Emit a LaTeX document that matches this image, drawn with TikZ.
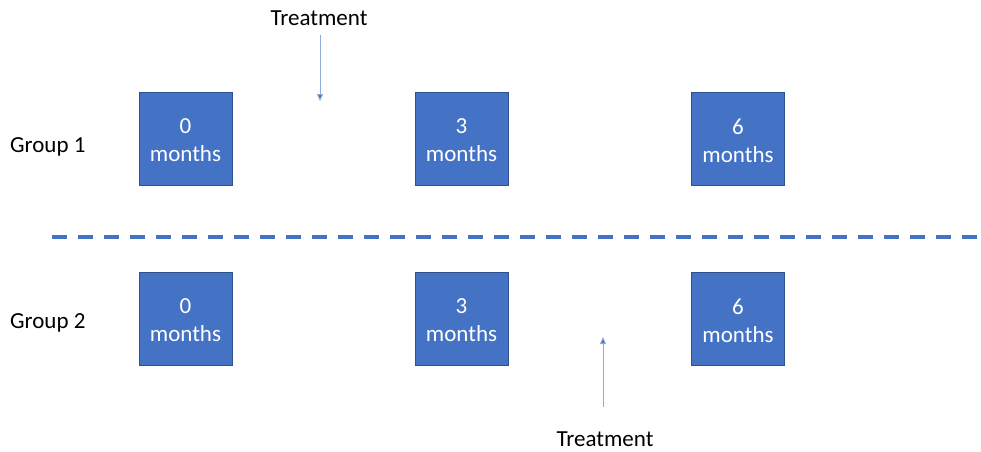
\documentclass[tikz,border=0pt]{standalone}
\usepackage{fontspec}
\setmainfont{Carlito}
\usetikzlibrary{arrows.meta}
\definecolor{boxblue}{HTML}{4472C4}
\definecolor{boxedge}{HTML}{2F528F}
\definecolor{arrowblue}{HTML}{8FAADC}
\begin{document}
\begin{tikzpicture}[x=1pt,y=-1pt,
  monthbox/.style={draw=boxedge,line width=0.8pt,fill=boxblue,
    minimum width=93pt,minimum height=93pt,inner sep=0pt},
  boxtext/.style={text=white,inner sep=0pt,align=center,
    font=\fontsize{23}{28}\selectfont},
  lbl/.style={font=\fontsize{23}{28}\selectfont,inner sep=0pt},
  tarrow/.style={draw=arrowblue,line width=0.9pt,-{Triangle[length=7pt,width=6pt,fill=boxblue]}}]
\useasboundingbox (0,0) rectangle (981,451);
% row 1
\node[monthbox] (a0) at (185.5,138.5) {};
\node[monthbox] (a3) at (461.5,138.5) {};
\node[monthbox] (a6) at (738,138.5) {};
% row 2
\node[monthbox] (b0) at (185.5,318.5) {};
\node[monthbox] (b3) at (461.5,318.5) {};
\node[monthbox] (b6) at (738,318.5) {};
% box texts
\node[boxtext] (a0t) at ([yshift=-2pt]a0.center) {0\\months};
\node[boxtext] (a3t) at ([yshift=-2pt]a3.center) {3\\months};
\node[boxtext] (a6t) at ([yshift=-2pt]a6.center) {6\\months};
\node[boxtext] (b0t) at ([yshift=-2pt]b0.center) {0\\months};
\node[boxtext] (b3t) at ([yshift=-2pt]b3.center) {3\\months};
\node[boxtext] (b6t) at ([yshift=-2pt]b6.center) {6\\months};
% group labels
\node[lbl,anchor=west] (g1) at (10,147) {Group 1};
\node[lbl,anchor=west] (g2) at (10,323) {Group 2};
% treatment labels
\node[lbl] (t1) at (319,18) {Treatment};
\node[lbl] (t2) at (605,439) {Treatment};
\coordinate (t1s) at (320,35);
\coordinate (t1e) at (320,101);
\coordinate (t2s) at (603,407);
\coordinate (t2e) at (603,337);
\draw[tarrow] (t1s) -- (t1e);
\draw[tarrow] (t2s) -- (t2e);
% divider
\coordinate (dl) at (52,236.5);
\coordinate (dr) at (981,236.5);
\draw[boxblue,line width=4pt,dash pattern=on 15pt off 11pt] (dl) -- (dr);
\end{tikzpicture}
\end{document}
